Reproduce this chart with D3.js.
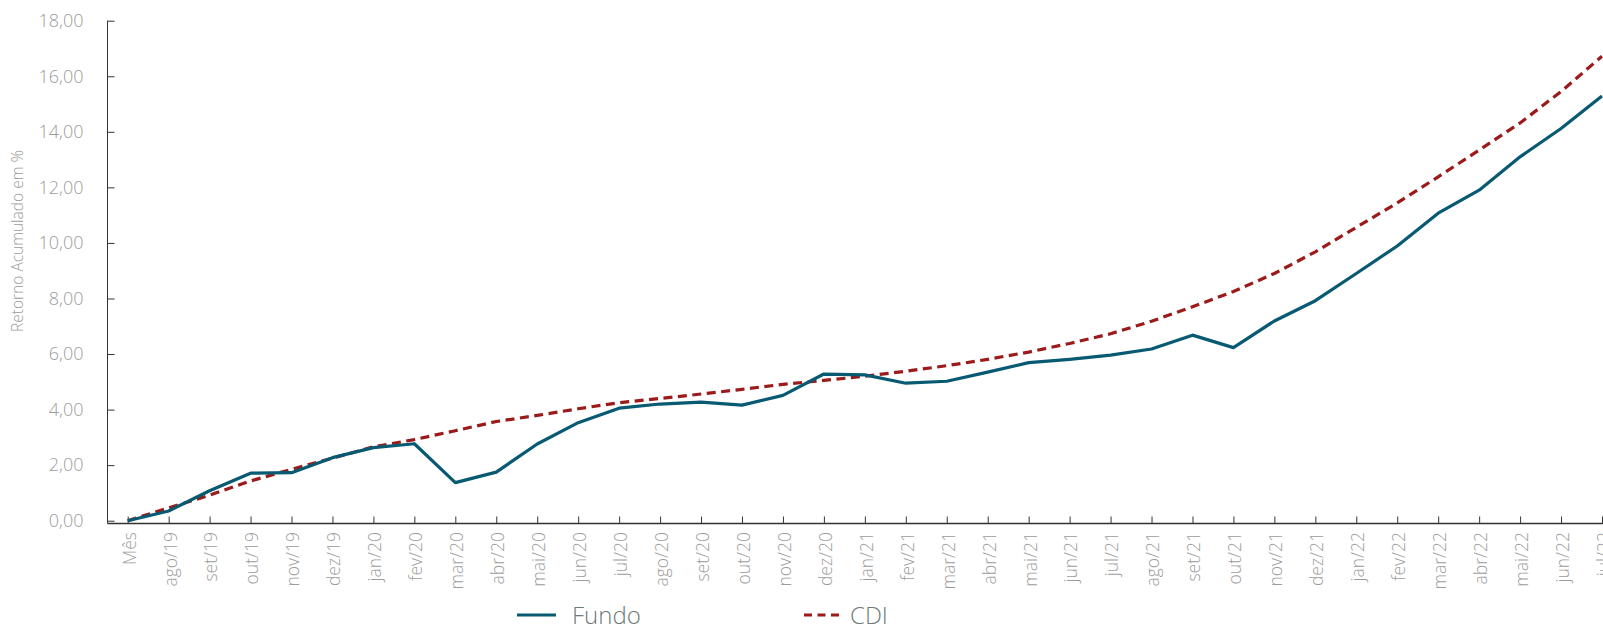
<!DOCTYPE html>
<html>
<head>
<meta charset="utf-8">
<script src="https://cdn.jsdelivr.net/npm/d3@7"></script>
<style>
    html, body { margin: 0; padding: 0; background: #fff; overflow: hidden; }
    svg { display: block; font-family: 'Open Sans', sans-serif; }
</style>
</head>
<body>
<div id="chart"></div>
<script>

const months = [
    'Mês', 'ago/19', 'set/19', 'out/19', 'nov/19', 'dez/19',
    'jan/20', 'fev/20', 'mar/20', 'abr/20', 'mai/20', 'jun/20', 'jul/20',
    'ago/20', 'set/20', 'out/20', 'nov/20', 'dez/20',
    'jan/21', 'fev/21', 'mar/21', 'abr/21', 'mai/21', 'jun/21', 'jul/21',
    'ago/21', 'set/21', 'out/21', 'nov/21', 'dez/21',
    'jan/22', 'fev/22', 'mar/22', 'abr/22', 'mai/22', 'jun/22', 'jul/22'
];

const fundo = [
    0, 0.35, 1.08, 1.71, 1.73, 2.27,
    2.63, 2.77, 1.37, 1.75, 2.76, 3.53, 4.05,
    4.20, 4.27, 4.16, 4.51, 5.28,
    5.25, 4.95, 5.02, 5.35, 5.69, 5.81, 5.96,
    6.18, 6.68, 6.23, 7.19, 7.92,
    8.90, 9.89, 11.07, 11.90, 13.10, 14.12, 15.29
];

const cdi = [
    0, 0.46, 0.92, 1.43, 1.85, 2.25,
    2.66, 2.92, 3.24, 3.57, 3.79, 4.03, 4.25,
    4.40, 4.56, 4.73, 4.91, 5.05,
    5.20, 5.38, 5.58, 5.81, 6.07, 6.38, 6.73,
    7.18, 7.70, 8.25, 8.90, 9.68,
    10.56, 11.44, 12.38, 13.34, 14.32, 15.45, 16.72
];

const yTicks = [0, 2, 4, 6, 8, 10, 12, 14, 16, 18];

const series = [
    { name: 'Fundo', values: fundo, color: '#075a72', dash: null },
    { name: 'CDI', values: cdi, color: '#9b1a1a', dash: '9,5.5' }
];

let
    width = 1603,
    height = 626,
    axisX = 107.5,
    axisY = 523.5,
    labelColor = '#9c9c9c',

    ptBR = d3.formatLocale({ decimal: ',', thousands: '.', grouping: [3], currency: ['R$', ''] }),
    fmt = ptBR.format('.2f'),

    x = d3.scalePoint()
        .domain(months)
        .range([127.7, 1602]),

    y = d3.scaleLinear()
        .domain([0, 18])
        .range([520.7, 20.7]),

    svg = d3.select('#chart')
        .append('svg')
        .attr('width', width)
        .attr('height', height);

// y axis
let gy = svg.append('g')
    .attr('transform', `translate(${axisX},0)`)
    .call(d3.axisLeft(y).tickValues(yTicks).tickFormat(fmt).tickSize(-7).tickPadding(24))
    .attr('font-family', null)
    .attr('font-size', null);

gy.select('.domain').remove();
gy.selectAll('.tick line').attr('stroke', '#333');
gy.selectAll('.tick text')
    .attr('fill', labelColor)
    .style('font-size', '18px')
    .style('font-weight', 300);

svg.append('line')
    .attr('x1', axisX).attr('x2', axisX)
    .attr('y1', y(18)).attr('y2', axisY)
    .attr('stroke', '#333')
    .attr('stroke-width', 1);

// x axis
let gx = svg.append('g')
    .attr('transform', `translate(0,${axisY})`)
    .call(d3.axisBottom(x).tickSize(-7).tickSizeOuter(0))
    .attr('font-family', null)
    .attr('font-size', null);

gx.select('.domain').remove();
gx.selectAll('.tick line').attr('stroke', '#333');
gx.selectAll('.tick text')
    .attr('fill', labelColor)
    .attr('transform', 'rotate(-90)')
    .attr('text-anchor', 'end')
    .attr('x', -8.5)
    .attr('y', 0)
    .attr('dy', '0.42em')
    .style('font-size', '17.5px')
    .style('font-weight', 300);

svg.append('line')
    .attr('x1', axisX).attr('x2', width)
    .attr('y1', axisY).attr('y2', axisY)
    .attr('stroke', '#333')
    .attr('stroke-width', 1.3);

// y axis title
svg.append('text')
    .attr('transform', 'translate(18,241) rotate(-90)')
    .attr('text-anchor', 'middle')
    .attr('dy', '0.35em')
    .attr('fill', labelColor)
    .style('font-size', '15.5px')
    .style('font-weight', 300)
    .text('Retorno Acumulado em %');

// lines
let line = d3.line()
    .x((d, i) => x(months[i]))
    .y(d => y(d));

// CDI drawn first, fund on top
series.slice().reverse().forEach(s => {
    svg.append('path')
        .datum(s.values)
        .attr('d', line)
        .attr('fill', 'none')
        .attr('stroke', s.color)
        .attr('stroke-width', 3.2)
        .attr('stroke-linejoin', 'round')
        .attr('stroke-dasharray', s.dash);
});

// legend (cut by the bottom edge, as in the source)
let legendX = [517, 804];
series.forEach((s, i) => {
    svg.append('line')
        .attr('x1', legendX[i]).attr('x2', legendX[i] + 39)
        .attr('y1', 615).attr('y2', 615)
        .attr('stroke', s.color)
        .attr('stroke-width', 3.2)
        .attr('stroke-dasharray', s.dash ? '8,5.5' : null);

    svg.append('text')
        .attr('x', legendX[i] + (s.dash ? 46 : 55))
        .attr('y', 623.5)
        .attr('fill', '#6e7979')
        .style('font-size', '24px')
        .style('font-weight', 300)
        .text(s.name);
});

</script>
</body>
</html>
